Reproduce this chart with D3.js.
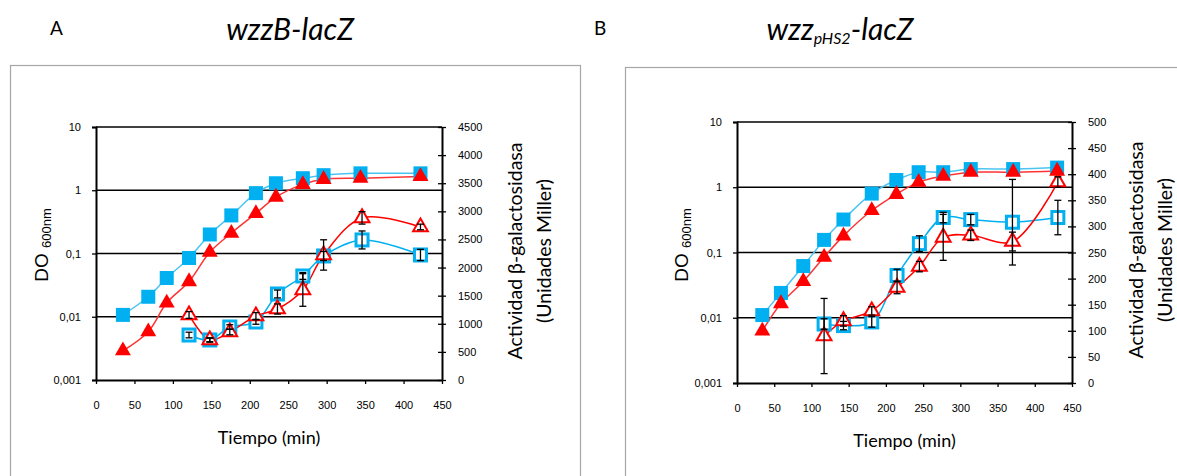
<!DOCTYPE html>
<html>
<head>
<meta charset="utf-8">
<script src="https://cdn.jsdelivr.net/npm/d3@7"></script>
<style>
  body { margin: 0; background: #fff; }
  svg { display: block; }
  .tick text { font-family: "Liberation Sans", Arial, sans-serif; font-size: 11px; fill: #000; }
  .lbl { font-family: Lato, "Open Sans", sans-serif; fill: #000; }
  .arial { font-family: "Liberation Sans", Arial, sans-serif; fill: #000; }
</style>
</head>
<body>
<svg id="chart" width="1177" height="476"></svg>
<script>
// --- data ---

// panel A: wzzB-lacZ
const timeA_do = [35, 68, 92, 121, 148, 176, 208, 234, 269, 296, 344, 422];
const doA_blue = [0.0107, 0.0207, 0.041, 0.085, 0.20, 0.40, 0.90, 1.29, 1.55, 1.73, 1.85, 1.85];
const doA_red = [0.0029, 0.0058, 0.0166, 0.036, 0.105, 0.21, 0.43, 0.78, 1.24, 1.49, 1.55, 1.65];
const timeA_act = [121, 148, 174, 208, 236, 269, 296, 346, 422];
const actA_blue = [800, 712, 943, 1032, 1530, 1850, 2206, 2491, 2224];
const errA_blue = [50, 30, 40, 40, 70, 60, 80, 160, 100];
const actA_red = [1157, 712, 854, 1139, 1263, 1601, 2224, 2883, 2722];
const errA_red = [60, 40, 50, 60, 90, 290, 270, 110, 50];

// panel B: wzz pHS2-lacZ
const timeB_do = [34, 59, 89, 117, 143, 181, 214, 244, 277, 314, 371, 430];
const doB_blue = [0.011, 0.024, 0.062, 0.156, 0.32, 0.80, 1.29, 1.70, 1.70, 1.90, 1.90, 2.0];
const doB_red = [0.0063, 0.0165, 0.036, 0.085, 0.18, 0.44, 0.78, 1.20, 1.48, 1.70, 1.70, 1.77];
const timeB_act = [117, 143, 181, 215, 245, 277, 314, 370, 431];
const actB_blue = [113, 110, 117, 206, 267, 317, 313, 308, 317];
const errB_blue = [10, 8, 10, 12, 15, 10, 10, 82, 33];
const actB_red = [90, 119, 138, 183, 223, 279, 283, 271, 385];
const errB_red = [72, 10, 8, 12, 10, 44, 10, 18, 10];

// axes
const xTicks = d3.range(0, 451, 50);
const doTicks = [0.001, 0.01, 0.1, 1, 10];
const actTicksA = d3.range(0, 4501, 500);
const actTicksB = d3.range(0, 501, 50);

const BLUE = "#00B0F0";
const RED = "#FF0000";

const svg = d3.select("#chart");

const zip = (xs, ys, es) => xs.map((x, i) => ({ x, y: ys[i], e: es ? es[i] : 0 }));

function drawPanel(p) {
    const x = d3.scaleLinear().domain([0, 450]).range([p.left, p.right]);
    const yLog = d3.scaleLog().domain([0.001, 10]).range([p.bottom, p.top]);
    const yAct = d3.scaleLinear().domain([0, p.actMax]).range([p.bottom, p.top]);

    // outer frame
    svg.append("rect")
        .attr("x", p.frame[0] + 0.5).attr("y", p.frame[1] + 0.5)
        .attr("width", p.frame[2]).attr("height", 500)
        .attr("fill", "none").attr("stroke", "#a6a6a6").attr("stroke-width", 1.2);

    // panel letter and title
    svg.append("text").attr("class", "lbl")
        .attr("x", p.letterX).attr("y", 35).style("font-size", "19px")
        .text(p.letter);
    const title = svg.append("text").attr("class", "lbl")
        .attr("x", p.titleX).attr("y", 40)
        .attr("text-anchor", "middle")
        .style("font-size", "30px").style("font-style", "italic");
    p.title.forEach(t => {
        title.append("tspan").text(t.s)
            .style("font-size", t.sub ? "16px" : null)
            .attr("dy", t.dy || 0);
    });

    // grid lines at decades
    svg.append("g").selectAll("line")
        .data([0.01, 0.1, 1])
        .join("line")
        .attr("x1", p.left).attr("x2", p.right)
        .attr("y1", d => yLog(d)).attr("y2", d => yLog(d))
        .attr("stroke", "#000").attr("stroke-width", 1.3);
    svg.append("line")
        .attr("x1", p.left).attr("x2", p.right)
        .attr("y1", p.top).attr("y2", p.top)
        .attr("stroke", "#000").attr("stroke-width", 1.3);

    // axes
    const fmtDO = d => String(d).replace(".", ",");
    svg.append("g")
        .attr("transform", `translate(${p.left},0)`)
        .call(d3.axisLeft(yLog).tickValues(doTicks).tickFormat(fmtDO).tickSize(4).tickPadding(11))
        .call(g => g.select(".domain").attr("stroke-width", 2))
        .call(g => g.selectAll(".tick line").attr("stroke-width", 1.3));

    svg.append("g")
        .attr("transform", `translate(${p.right},0)`)
        .call(d3.axisRight(yAct).tickValues(p.actTicks).tickFormat(d3.format("d"))
            .tickSize(4).tickPadding(12).tickSizeOuter(0))
        .call(g => g.select(".domain").attr("stroke-width", 2))
        .call(g => g.selectAll(".tick line").attr("x1", -4).attr("stroke-width", 1.3));

    svg.append("g")
        .attr("transform", `translate(0,${p.bottom})`)
        .call(d3.axisBottom(x).tickValues(xTicks).tickSize(4).tickPadding(17).tickSizeOuter(0))
        .call(g => g.select(".domain").attr("stroke-width", 2))
        .call(g => g.selectAll(".tick line").attr("stroke-width", 1.3));

    // axis titles
    svg.append("text").attr("class", "lbl")
        .attr("x", (p.left + p.right) / 2).attr("y", p.bottom + 64)
        .attr("text-anchor", "middle").style("font-size", "18px")
        .text("Tiempo (min)");

    const doTitle = svg.append("text").attr("class", "arial")
        .attr("transform", `translate(${p.doTitleX},${p.doMidY}) rotate(-90)`)
        .attr("text-anchor", "middle").style("font-size", "19px");
    doTitle.append("tspan").text("DO ");
    doTitle.append("tspan").text("600nm").style("font-size", "13px").attr("dy", 3);

    svg.append("text").attr("class", "lbl")
        .attr("transform", `translate(${p.actTitleX},${p.actMidY}) rotate(-90)`)
        .attr("text-anchor", "middle").style("font-size", "19.5px")
        .text("Actividad β-galactosidasa");
    svg.append("text").attr("class", "lbl")
        .attr("transform", `translate(${p.actTitleX + 29},${p.actMidY}) rotate(-90)`)
        .attr("text-anchor", "middle").style("font-size", "19.5px")
        .text("(Unidades Miller)");

    // series
    const series = [
        { pts: zip(p.tDo, p.doBlue), y: yLog, color: "#4CC4F2", kind: "sq", fill: true },
        { pts: zip(p.tDo, p.doRed), y: yLog, color: "#FF3333", kind: "tri", fill: true },
        { pts: zip(p.tAct, p.actBlue, p.errBlue), y: yAct, color: BLUE, kind: "sq", fill: false },
        { pts: zip(p.tAct, p.actRed, p.errRed), y: yAct, color: RED, kind: "tri", fill: false }
    ];

    series.forEach(s => {
        const line = d3.line()
            .x(d => x(d.x)).y(d => s.y(d.y))
            .curve(d3.curveCatmullRom.alpha(0.5));
        svg.append("path")
            .attr("d", line(s.pts))
            .attr("fill", "none")
            .attr("stroke", s.color)
            .attr("stroke-width", 1.5);
    });

    series.forEach(s => {
        const markerColor = s.kind === "sq" ? BLUE : RED;
        const g = svg.append("g");
        if (s.kind === "sq") {
            const size = s.fill ? 14 : 12;
            g.selectAll("rect")
                .data(s.pts)
                .join("rect")
                .attr("x", d => x(d.x) - size / 2)
                .attr("y", d => s.y(d.y) - size / 2)
                .attr("width", size).attr("height", size)
                .attr("fill", s.fill ? markerColor : "#fff")
                .attr("stroke", markerColor)
                .attr("stroke-width", s.fill ? 0 : 3);
        } else {
            g.selectAll("path")
                .data(s.pts)
                .join("path")
                .attr("transform", d => `translate(${x(d.x)},${s.y(d.y)})`)
                .attr("d", d3.symbol(d3.symbolTriangle, s.fill ? 110 : 95)())
                .attr("fill", s.fill ? markerColor : "#fff")
                .attr("stroke", markerColor)
                .attr("stroke-width", s.fill ? 0 : 2);
        }
    });

    // error bars on the open series
    series.filter(s => !s.fill).forEach(s => {
        const g = svg.append("g").attr("stroke", "#000").attr("stroke-width", 1.3);
        s.pts.forEach(d => {
            const cx = x(d.x), y1 = s.y(d.y + d.e), y2 = s.y(d.y - d.e);
            g.append("line").attr("x1", cx).attr("x2", cx).attr("y1", y1).attr("y2", y2);
            g.append("line").attr("x1", cx - 3.5).attr("x2", cx + 3.5).attr("y1", y1).attr("y2", y1);
            g.append("line").attr("x1", cx - 3.5).attr("x2", cx + 3.5).attr("y1", y2).attr("y2", y2);
        });
    });
}

drawPanel({
    left: 96, right: 442, top: 127, bottom: 380,
    actMax: 4500, actTicks: actTicksA,
    frame: [10, 65, 570],
    letter: "A", letterX: 50, titleX: 290,
    title: [{ s: "wzzB-lacZ" }],
    doTitleX: 48, doMidY: 245, actTitleX: 522, actMidY: 251,
    tDo: timeA_do, doBlue: doA_blue, doRed: doA_red,
    tAct: timeA_act, actBlue: actA_blue, errBlue: errA_blue, actRed: actA_red, errRed: errA_red
});

drawPanel({
    left: 737, right: 1072, top: 122, bottom: 383,
    actMax: 500, actTicks: actTicksB,
    frame: [625, 67, 600],
    letter: "B", letterX: 594, titleX: 840,
    title: [{ s: "wzz" }, { s: "pHS2", sub: true, dy: 4 }, { s: "-lacZ", dy: -4 }],
    doTitleX: 688, doMidY: 245, actTitleX: 1143, actMidY: 250,
    tDo: timeB_do, doBlue: doB_blue, doRed: doB_red,
    tAct: timeB_act, actBlue: actB_blue, errBlue: errB_blue, actRed: actB_red, errRed: errB_red
});
</script>
</body>
</html>
